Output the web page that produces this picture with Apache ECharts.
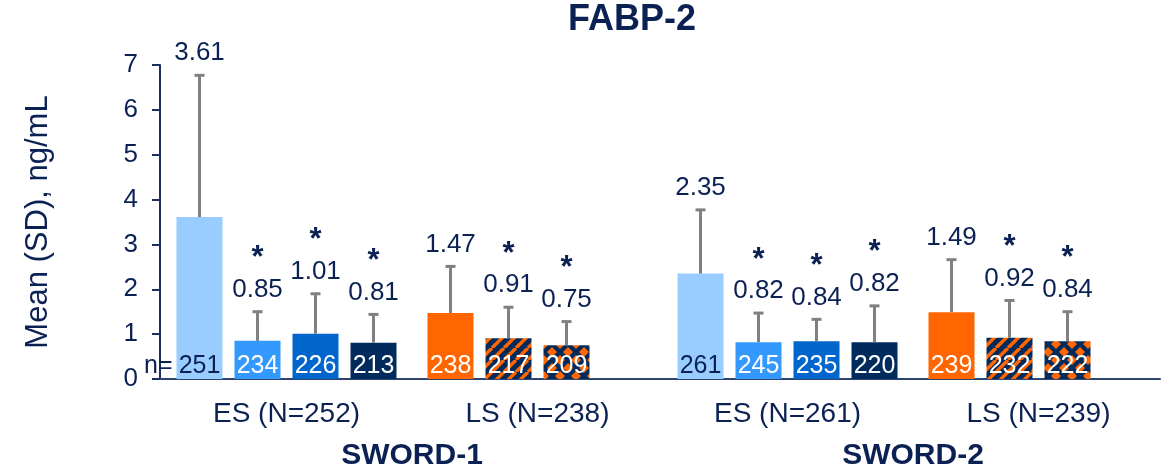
<!DOCTYPE html>
<html>
<head>
<meta charset="utf-8">
<script src="https://cdn.jsdelivr.net/npm/echarts@6/dist/echarts.min.js"></script>
<style>
  html, body { margin: 0; padding: 0; background: #fff; }
  #chart { width: 1166px; height: 469px; }
</style>
</head>
<body>
<div id="chart"></div>
<script>
// chart values
const groupLabels = ['ES (N=252)', 'LS (N=238)', 'ES (N=261)', 'LS (N=239)']
const studyLabels = ['SWORD-1', 'SWORD-2']
const means = [3.61, 0.85, 1.01, 0.81, 1.47, 0.91, 0.75, 2.35, 0.82, 0.84, 0.82, 1.49, 0.92, 0.84]
const sds = [3.16, 0.65, 0.89, 0.63, 1.04, 0.69, 0.53, 1.42, 0.65, 0.49, 0.81, 1.17, 0.83, 0.66]
const nCounts = [251, 234, 226, 213, 238, 217, 209, 261, 245, 235, 220, 239, 232, 222]
const starred = [0, 1, 1, 1, 0, 1, 1, 0, 1, 1, 1, 0, 1, 1]
const barGroup = [0, 0, 0, 0, 1, 1, 1, 2, 2, 2, 2, 3, 3, 3]
const barArm = [0, 1, 2, 3, 4, 5, 6, 0, 1, 2, 3, 4, 5, 6]
const yTicks = [0, 1, 2, 3, 4, 5, 6, 7]

const TEXT = '#0B2154'
const NAVY = '#002B5C'
const ORANGE = '#FF6600'
const FONT = '"Liberation Sans", Arial, sans-serif'

function stripeTile() {
    const s = 12
    const c = document.createElement('canvas')
    c.width = s
    c.height = s
    const g = c.getContext('2d')
    g.fillStyle = NAVY
    g.fillRect(0, 0, s, s)
    g.strokeStyle = ORANGE
    g.lineWidth = 3.5
    g.beginPath()
    for (let k = -1; k <= 1; k++) {
        g.moveTo(k * s, s)
        g.lineTo(k * s + s, 0)
    }
    g.stroke()
    return { image: c, repeat: 'repeat' }
}

function diamondTile() {
    const s = 16
    const r = 5
    const c = document.createElement('canvas')
    c.width = s
    c.height = s
    const g = c.getContext('2d')
    g.fillStyle = NAVY
    g.fillRect(0, 0, s, s)
    g.fillStyle = ORANGE
    const centers = [[s / 2, 0], [s / 2, s], [0, s / 2], [s, s / 2]]
    centers.forEach(([cx, cy]) => {
        g.beginPath()
        g.moveTo(cx, cy - r)
        g.lineTo(cx + r, cy)
        g.lineTo(cx, cy + r)
        g.lineTo(cx - r, cy)
        g.closePath()
        g.fill()
    })
    return { image: c, repeat: 'repeat' }
}

const armFills = ['#99CCFF', '#3399FF', '#0066CC', NAVY, ORANGE, stripeTile(), diamondTile()]
const armTextColor = [TEXT, '#fff', '#fff', '#fff', '#fff', '#fff', '#fff']

// layout along a hidden value x axis (0..1000)
const STEP = 58
const groupStart = [39.5, 290.5, 540.5, 791.5]
const barX = []
const slotInGroup = {}
barGroup.forEach(gi => {
    slotInGroup[gi] = (slotInGroup[gi] || 0)
    barX.push(groupStart[gi] + slotInGroup[gi] * STEP)
    slotInGroup[gi]++
})
const groupCenters = groupStart.map(s => s + 1.5 * STEP)
const studyCenters = [(groupCenters[0] + groupCenters[1]) / 2, (groupCenters[2] + groupCenters[3]) / 2]

const barData = means.map((m, i) => [barX[i], m, sds[i], nCounts[i], starred[i], barArm[i]])

const chart = echarts.init(document.getElementById('chart'))

chart.setOption({
    animation: false,
    title: {
        text: 'FABP-2',
        left: 632,
        top: 2,
        padding: 0,
        textAlign: 'center',
        textStyle: { fontFamily: FONT, fontSize: 36, fontWeight: 'bold', color: TEXT },
    },
    grid: { left: 160, right: 6, top: 65, bottom: 90 },
    xAxis: {
        type: 'value',
        min: 0,
        max: 1000,
        splitLine: { show: false },
        axisTick: { show: false },
        axisLabel: { show: false },
        axisLine: { show: true, lineStyle: { color: '#2E4470', width: 2 } },
    },
    yAxis: {
        type: 'value',
        min: 0,
        max: 7,
        interval: 1,
        name: 'Mean (SD), ng/mL',
        nameLocation: 'middle',
        nameRotate: 90,
        nameGap: 106,
        nameTextStyle: { fontFamily: FONT, fontSize: 31, color: TEXT },
        splitLine: { show: false },
        axisLine: { show: true, lineStyle: { color: '#1B2F5C', width: 2 } },
        axisTick: { show: true, inside: false, length: 8, lineStyle: { color: '#1B2F5C', width: 2 } },
        axisLabel: {
            margin: 22,
            fontFamily: FONT,
            fontSize: 26,
            color: TEXT,
            formatter: v => (yTicks.includes(v) ? String(v) : ''),
        },
    },
    series: [
        {
            type: 'custom',
            clip: false,
            data: barData,
            renderItem(params, api) {
                const x = api.value(0)
                const mean = api.value(1)
                const sd = api.value(2)
                const n = api.value(3)
                const star = api.value(4)
                const arm = api.value(5)
                const base = api.coord([x, 0])
                const top = api.coord([x, mean])
                const cap = api.coord([x, mean + sd])
                const w = api.size([46, 0])[0]
                const children = [
                    {
                        type: 'rect',
                        shape: { x: base[0] - w / 2, y: top[1], width: w, height: base[1] - top[1] },
                        style: { fill: armFills[arm] },
                    },
                    {
                        type: 'line',
                        shape: { x1: base[0], y1: top[1], x2: base[0], y2: cap[1] },
                        style: { stroke: '#808080', lineWidth: 3 },
                    },
                    {
                        type: 'line',
                        shape: { x1: base[0] - 5, y1: cap[1], x2: base[0] + 5, y2: cap[1] },
                        style: { stroke: '#808080', lineWidth: 3 },
                    },
                    {
                        type: 'text',
                        style: {
                            text: mean.toFixed(2),
                            x: base[0],
                            y: cap[1] - 22,
                            align: 'center',
                            verticalAlign: 'middle',
                            fill: TEXT,
                            font: '26px ' + FONT,
                        },
                    },
                    {
                        type: 'text',
                        z2: 10,
                        style: {
                            text: String(n),
                            x: base[0],
                            y: base[1] - 12.5,
                            align: 'center',
                            verticalAlign: 'middle',
                            fill: armTextColor[arm],
                            font: '25px ' + FONT,
                        },
                    },
                ]
                if (star) {
                    children.push({
                        type: 'text',
                        style: {
                            text: '*',
                            x: base[0],
                            y: cap[1] - 53,
                            align: 'center',
                            verticalAlign: 'middle',
                            fill: TEXT,
                            font: 'bold 31px ' + FONT,
                        },
                    })
                }
                if (params.dataIndex === 0) {
                    children.push({
                        type: 'text',
                        style: {
                            text: 'n=',
                            x: base[0] - w / 2 - 4,
                            y: base[1] - 12.5,
                            align: 'right',
                            verticalAlign: 'middle',
                            fill: TEXT,
                            font: '25px ' + FONT,
                        },
                    })
                }
                return { type: 'group', children }
            },
        },
        {
            type: 'custom',
            clip: false,
            silent: true,
            data: groupCenters.map((c, i) => [c, 0, i]),
            renderItem(params, api) {
                const p = api.coord([api.value(0), 0])
                return {
                    type: 'text',
                    style: {
                        text: groupLabels[api.value(2)],
                        x: p[0],
                        y: p[1] + 35,
                        align: 'center',
                        verticalAlign: 'middle',
                        fill: TEXT,
                        font: '28px ' + FONT,
                    },
                }
            },
        },
        {
            type: 'custom',
            clip: false,
            silent: true,
            data: studyCenters.map((c, i) => [c, 0, i]),
            renderItem(params, api) {
                const p = api.coord([api.value(0), 0])
                return {
                    type: 'text',
                    style: {
                        text: studyLabels[api.value(2)],
                        x: p[0],
                        y: p[1] + 77,
                        align: 'center',
                        verticalAlign: 'middle',
                        fill: TEXT,
                        font: 'bold 30px ' + FONT,
                    },
                }
            },
        },
    ],
})
</script>
</body>
</html>
